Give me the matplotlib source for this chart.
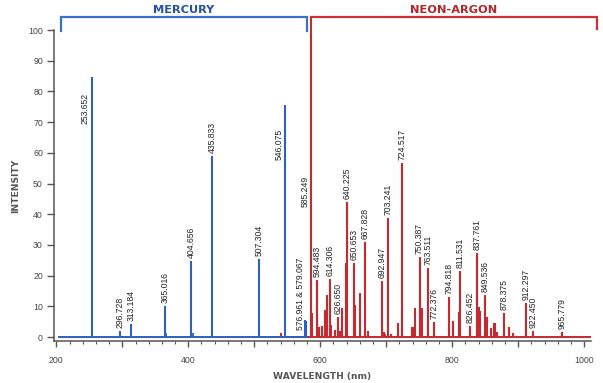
import matplotlib
matplotlib.use("Agg")
import matplotlib.pyplot as plt
from matplotlib.ticker import MultipleLocator, FuncFormatter

# ---------------- data ----------------
hg_wl = [253.652, 296.728, 313.184, 365.016, 404.656, 435.833, 507.304, 546.075, 576.961, 579.067]
hg_int = [84.8, 2.0, 4.2, 10.2, 24.9, 59.0, 25.3, 75.6, 5.5, 5.2]
hg_minor_wl = [312.567, 366.328, 407.783]
hg_minor_int = [1.5, 1.2, 1.3]

ne_wl = [540.056, 585.249, 588.190, 594.483, 597.553, 603.000, 607.434, 609.616, 614.306, 616.359,
         621.728, 626.650, 630.479, 633.443, 638.299, 640.225, 650.653, 653.288, 659.895, 667.828,
         671.704, 692.947, 696.543, 698.0, 703.241, 706.722, 717.394, 724.517, 738.398, 740.5,
         743.890, 750.387, 751.465, 753.577, 763.511, 772.376, 794.818, 801.479, 810.369, 811.531,
         826.452, 837.761, 840.821, 842.465, 849.536, 852.144, 859.126, 863.465, 865.438, 868.192,
         878.375, 885.387, 886.575, 891.950, 912.297, 922.450, 965.779]
ne_int = [1.3, 104.2, 7.7, 18.6, 3.4, 3.5, 8.8, 13.7, 18.8, 3.9,
          2.2, 6.6, 1.9, 9.3, 24.0, 44.1, 24.0, 10.4, 14.2, 31.0,
          2.0, 18.3, 1.5, 1.0, 38.7, 0.9, 4.5, 56.6, 3.2, 3.2,
          9.3, 26.2, 13.4, 9.3, 22.4, 5.0, 12.9, 5.3, 8.2, 21.6,
          3.6, 27.5, 9.7, 8.6, 13.6, 6.4, 2.8, 4.7, 4.7, 1.7,
          7.7, 3.4, 2.3, 1.2, 11.2, 2.1, 1.7]

hg_labels = [253.652, 296.728, 313.184, 365.016, 404.656, 435.833, 507.304, 546.075]
hg_pair_label = "576.961 & 579.067"
ne_labels = [585.249, 594.483, 614.306, 626.650, 640.225, 650.653, 667.828, 692.947, 703.241,
             724.517, 750.387, 763.511, 772.376, 794.818, 811.531, 826.452, 837.761, 849.536,
             878.375, 912.297, 922.450, 965.779]

group_names = ["MERCURY", "NEON-ARGON"]
y_ticks = list(range(0, 101, 10))
x_label = "WAVELENGTH (nm)"
y_label = "INTENSITY"

# ---------------- style ----------------
BLUE = "#2f5ec4"
RED = "#c8282e"
BLUE_T = "#2450a8"
RED_T = "#b3262b"
GRAY = "#555555"
PX = 0.72  # points per pixel at dpi 100

fig = plt.figure(figsize=(6.03, 3.83), dpi=100)
ax = fig.add_axes([54 / 603, 42 / 383, 537 / 603, 311 / 383])
ax.set_xlim(196.5, 1010.2)
ax.set_ylim(-1.3, 100)

# baselines
ax.plot([524, 1011], [0, 0], color=RED, lw=1.4, solid_capstyle="butt", zorder=2)
ax.plot([202, 582], [0, 0], color=BLUE, lw=1.4, solid_capstyle="butt", zorder=3)

# spectral lines
ax.vlines(ne_wl, 0, ne_int, color=RED, lw=1.5, zorder=2, clip_on=False)
ax.vlines(hg_wl, 0, hg_int, color=BLUE, lw=1.5, zorder=3)
ax.vlines(hg_minor_wl, 0, hg_minor_int, color=BLUE, lw=1.3, zorder=3)

lab_kw = dict(rotation=90, fontsize=6.2, color="#222222", family="Liberation Sans",
              textcoords="offset points", ha="center")

def value_of(wls, ints, w):
    return ints[wls.index(w)]

# Hg labels
for w in hg_labels:
    v = value_of(hg_wl, hg_int, w)
    txt = f"{w:.3f}"
    if w == 253.652:
        ax.annotate(txt, (w, v), xytext=(-7 * PX, -16 * PX), va="top", **lab_kw)
    elif w == 546.075:
        ax.annotate(txt, (w, v), xytext=(-5.5 * PX, -24 * PX), va="top", **lab_kw)
    else:
        ax.annotate(txt, (w, v), xytext=(0, 3 * PX), va="bottom", **lab_kw)

ax.annotate(hg_pair_label, (hg_wl[8], 2.3), xytext=(-5 * PX, 0), va="bottom", **lab_kw)

# Ne-Ar labels
for w in ne_labels:
    v = value_of(ne_wl, ne_int, w)
    txt = f"{w:.3f}"
    if w == 585.249:
        ax.annotate(txt, (w, 52.5), xytext=(-5.5 * PX, 0), va="top", **lab_kw)
    else:
        ax.annotate(txt, (w, v), xytext=(0, 3 * PX), va="bottom", **lab_kw)

# group brackets
ax.plot([207, 207, 580, 580], [99.7, 104.2, 104.2, 99.7], color="#3f6ec9", lw=1.6,
        clip_on=False, solid_joinstyle="miter")
ax.plot([585.249, 1020, 1020], [104.2, 104.2, 100.3], color="#d03036", lw=1.6,
        clip_on=False, solid_joinstyle="miter")
ax.text((207 + 580) / 2, 106.6, group_names[0], color=BLUE_T, fontsize=8.2, fontweight="bold",
        ha="center", va="center", clip_on=False)
ax.text((585.249 + 1020) / 2, 106.6, group_names[1], color=RED_T, fontsize=8.2, fontweight="bold",
        ha="center", va="center", clip_on=False)

# axes styling
for s in ["top", "right"]:
    ax.spines[s].set_visible(False)
for s in ["left", "bottom"]:
    ax.spines[s].set_color(GRAY)
    ax.spines[s].set_linewidth(1.1)

ax.set_yticks(y_ticks)
ax.xaxis.set_major_locator(MultipleLocator(100))
ax.xaxis.set_minor_locator(MultipleLocator(20))
ax.xaxis.set_major_formatter(FuncFormatter(lambda v, p: f"{int(v)}" if int(round(v)) % 200 == 0 else ""))
ax.tick_params(axis="y", length=5, width=1.0, color=GRAY, labelcolor="#444444", labelsize=6.3, pad=3)
ax.tick_params(axis="x", which="major", length=4.5, width=1.0, color=GRAY, labelcolor="#444444",
               labelsize=6.3, pad=6)
ax.tick_params(axis="x", which="minor", length=2.5, width=0.8, color=GRAY)
for lab in ax.get_xticklabels() + ax.get_yticklabels():
    lab.set_family("Liberation Sans")

ax.set_xlabel(x_label, fontsize=6.6, fontweight="bold", color=GRAY, labelpad=5)
ax.set_ylabel(y_label, fontsize=6.6, fontweight="bold", color=GRAY, labelpad=6)

fig.savefig("out.png", dpi=100)
